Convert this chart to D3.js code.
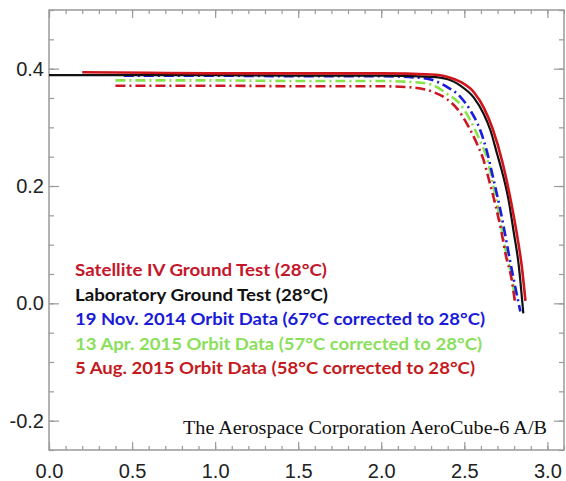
<!DOCTYPE html>
<html>
<head>
<meta charset="utf-8">
<script src="https://cdn.jsdelivr.net/npm/d3@7"></script>
<style>
  body { margin: 0; background: #fff; }
  svg { display: block; }
</style>
</head>
<body>
<svg id="chart" width="566" height="481"></svg>
<script>
  // I-V curves, [voltage, current]
  var satelliteGround = [[0.2,0.394],[0.6,0.393],[1.0,0.392],[1.5,0.392],[2.0,0.392],[2.3,0.390],[2.4,0.386],[2.48,0.377],[2.56,0.359],[2.62,0.332],[2.67,0.298],[2.73,0.240],[2.78,0.175],[2.82,0.112],[2.845,0.065],[2.868,0.004]];
  var labGround = [[0.0,0.389],[0.5,0.389],[1.0,0.389],[1.5,0.388],[2.0,0.388],[2.3,0.386],[2.4,0.382],[2.476,0.371],[2.556,0.351],[2.616,0.323],[2.657,0.295],[2.697,0.255],[2.72,0.232],[2.767,0.175],[2.797,0.122],[2.827,0.066],[2.855,-0.017]];
  var nov2014 = [[0.45,0.388],[1.0,0.388],[1.5,0.387],[2.0,0.387],[2.25,0.384],[2.396,0.369],[2.476,0.352],[2.536,0.329],[2.596,0.295],[2.637,0.258],[2.667,0.222],[2.717,0.159],[2.777,0.070],[2.837,-0.014]];
  var apr2015 = [[0.4,0.380],[1.0,0.380],[1.5,0.379],[2.0,0.379],[2.2,0.377],[2.3,0.373],[2.396,0.357],[2.476,0.339],[2.536,0.312],[2.596,0.276],[2.637,0.247],[2.667,0.210],[2.697,0.170],[2.727,0.124],[2.757,0.079],[2.787,0.045],[2.807,0.0]];
  var aug2015 = [[0.4,0.371],[1.0,0.371],[1.5,0.370],[2.0,0.370],[2.19,0.368],[2.315,0.360],[2.396,0.348],[2.456,0.332],[2.516,0.306],[2.576,0.272],[2.616,0.244],[2.647,0.212],[2.687,0.168],[2.722,0.124],[2.752,0.079],[2.782,0.045],[2.805,0.002]];

  var seriesNames = [
    'Satellite IV Ground Test (28°C)',
    'Laboratory Ground Test (28°C)',
    '19 Nov. 2014 Orbit Data (67°C corrected to 28°C)',
    '13 Apr. 2015 Orbit Data (57°C corrected to 28°C)',
    '5 Aug. 2015 Orbit Data (58°C corrected to 28°C)'
  ];
  var seriesData = [satelliteGround, labGround, nov2014, apr2015, aug2015];
  var seriesColors = ['#d0141c', '#111111', '#1c1ce0', '#86e34a', '#cc1626'];
  var textColors = ['#c4162a', '#111111', '#1a1ad8', '#8ae05a', '#c41a1e'];

  var xTicks = [0.0, 0.5, 1.0, 1.5, 2.0, 2.5, 3.0];
  var yTicks = [-0.2, 0.0, 0.2, 0.4];
  var xTickLabels = ['0.0', '0.5', '1.0', '1.5', '2.0', '2.5', '3.0'];
  var yTickLabels = ['-0.2', '0.0', '0.2', '0.4'];

  var credit = 'The Aerospace Corporation AeroCube-6 A/B';

  (function () {
    'use strict';

    var seriesDash = [null, null, '10,4,2,4', '10,4,2,4', '10,4,2,4'];
    var seriesWidth = [2.6, 2.2, 2.6, 2.6, 2.6];
    var legendWidths = [252, 253, 410, 407, 400];
    var xMinor = d3.range(0, 3.11, 0.1);
    var yMinor = d3.range(-0.25, 0.501, 0.05);

    var left = 49, right = 564, top = 10, bottom = 450;
    var svg = d3.select('#chart');

    var x = d3.scaleLinear().domain([0, 3.1]).range([left, right]);
    var y = d3.scaleLinear().domain([-0.25, 0.5]).range([bottom, top]);

    var axisColor = '#9a9a9a';
    var labelFont = '"Liberation Sans", Arial, sans-serif';

    function styleAxis(g) {
      g.select('.domain').remove();
      g.selectAll('.tick line').attr('stroke', axisColor).attr('stroke-width', 1.2);
      g.selectAll('.tick text').attr('fill', '#222').style('font-family', labelFont).style('font-size', '20px');
    }

    // minor ticks
    svg.append('g').attr('transform', 'translate(0,' + bottom + ')')
      .call(d3.axisBottom(x).tickValues(xMinor).tickSize(-4).tickFormat(''))
      .call(styleAxis);
    svg.append('g').attr('transform', 'translate(0,' + top + ')')
      .call(d3.axisTop(x).tickValues(xMinor).tickSize(-4).tickFormat(''))
      .call(styleAxis);
    svg.append('g').attr('transform', 'translate(' + left + ',0)')
      .call(d3.axisLeft(y).tickValues(yMinor).tickSize(-5).tickFormat(''))
      .call(styleAxis);
    svg.append('g').attr('transform', 'translate(' + right + ',0)')
      .call(d3.axisRight(y).tickValues(yMinor).tickSize(-5).tickFormat(''))
      .call(styleAxis);

    // major ticks with labels
    svg.append('g').attr('transform', 'translate(0,' + bottom + ')')
      .call(d3.axisBottom(x).tickValues(xTicks).tickSize(-8).tickPadding(14)
        .tickFormat(function (d, i) { return xTickLabels[i]; }))
      .call(styleAxis);
    svg.append('g').attr('transform', 'translate(0,' + top + ')')
      .call(d3.axisTop(x).tickValues(xTicks).tickSize(-8).tickFormat(''))
      .call(styleAxis);
    svg.append('g').attr('transform', 'translate(' + left + ',0)')
      .call(d3.axisLeft(y).tickValues(yTicks).tickSize(-10).tickPadding(5)
        .tickFormat(function (d, i) { return yTickLabels[i]; }))
      .call(styleAxis);
    svg.append('g').attr('transform', 'translate(' + right + ',0)')
      .call(d3.axisRight(y).tickValues(yTicks).tickSize(-10).tickFormat(''))
      .call(styleAxis);

    // frame
    svg.append('rect')
      .attr('x', left).attr('y', top)
      .attr('width', right - left).attr('height', bottom - top)
      .attr('fill', 'none').attr('stroke', axisColor).attr('stroke-width', 1.5);

    var line = d3.line()
      .x(function (d) { return x(d[0]); })
      .y(function (d) { return y(d[1]); })
      .curve(d3.curveMonotoneX);

    var drawOrder = [3, 4, 2, 1, 0];
    drawOrder.forEach(function (i) {
      svg.append('path')
        .datum(seriesData[i])
        .attr('d', line)
        .attr('fill', 'none')
        .attr('stroke', seriesColors[i])
        .attr('stroke-width', seriesWidth[i])
        .attr('stroke-linejoin', 'round')
        .attr('stroke-dasharray', seriesDash[i]);
    });

    // legend text
    var legend = svg.append('g').attr('class', 'legend');
    seriesNames.forEach(function (name, i) {
      legend.append('text')
        .attr('x', 75)
        .attr('y', 276 + i * 24.5)
        .attr('fill', textColors[i])
        .attr('textLength', legendWidths[i])
        .attr('lengthAdjust', 'spacingAndGlyphs')
        .style('font-family', 'Lato, "Open Sans", sans-serif')
        .style('font-weight', 700)
        .style('font-size', '17px')
        .text(name);
    });

    svg.append('text')
      .attr('x', 183)
      .attr('y', 434)
      .attr('fill', '#111')
      .attr('textLength', 364)
      .attr('lengthAdjust', 'spacingAndGlyphs')
      .style('font-family', '"Liberation Serif", "Times New Roman", serif')
      .style('font-size', '18px')
      .text(credit);
  })();
</script>
</body>
</html>
